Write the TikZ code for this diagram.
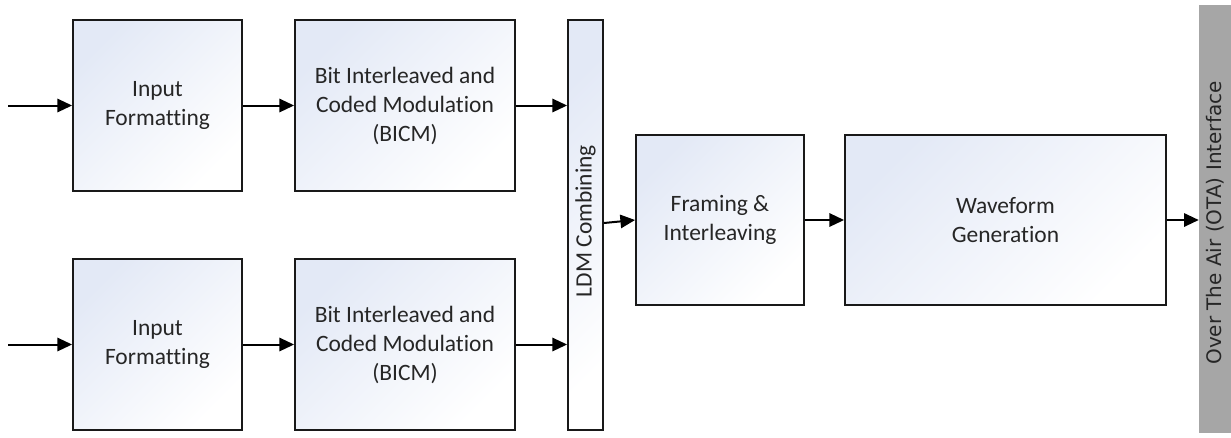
\documentclass[tikz,border=0pt]{standalone}
\usepackage{fontspec}
\setmainfont{Carlito}[Ligatures={NoCommon}]
\newfontfamily\otafont{DejaVu Sans}
\usetikzlibrary{arrows.meta}
\definecolor{boxtop}{HTML}{E3E9F6}
\definecolor{otagray}{HTML}{A6A6A6}
\begin{document}
\begin{tikzpicture}[x=0.75pt,y=-0.75pt,
  blk/.style={draw=black!90, line width=1.4pt, inner sep=0pt, align=center,
    shade, top color=boxtop, bottom color=white, shading angle=45,
    font=\fontsize{17.6}{21.75}\selectfont, text=black!85},
  conn/.style={line width=1.5pt, -{Triangle[length=11pt,width=10pt]}}]
\useasboundingbox (0,0) rectangle (1231,437);
\node[blk, minimum width=126.75pt, minimum height=128.25pt] (inA) at (157.5,105.5) {Input\\Formatting};
\node[blk, minimum width=165pt, minimum height=128.25pt] (bicmA) at (405,105.5) {Bit Interleaved and\\Coded Modulation\\(BICM)};
\node[blk, minimum width=126.75pt, minimum height=128.25pt] (inB) at (157.5,344.5) {Input\\Formatting};
\node[blk, minimum width=165pt, minimum height=128.25pt] (bicmB) at (405,344.5) {Bit Interleaved and\\Coded Modulation\\(BICM)};
\node[blk, minimum width=26.25pt, minimum height=307.5pt] (ldm) at (585.5,225) {\rotatebox{90}{\hspace{6pt}LDM Combining}};
\node[blk, minimum width=126pt, minimum height=127.5pt] (fr) at (720,220) {Framing \&\\Interleaving};
\node[blk, minimum width=240.75pt, minimum height=127.5pt] (wf) at (1005.5,220) {Waveform\\Generation};
\node[fill=otagray, inner sep=0pt, minimum width=24.75pt, minimum height=321pt, text=black!85,
  font=\otafont\fontsize{15}{18}\selectfont] (ota) at (1215.5,219) {\rotatebox{90}{Over The Air (OTA) Interface\hspace{6pt}}};
\coordinate (srcA) at (8,105.5);
\coordinate (srcB) at (8,344.5);
\draw[conn] (srcA) -- (inA);
\draw[conn] (srcB) -- (inB);
\draw[conn] (inA) -- (bicmA);
\draw[conn] (inB) -- (bicmB);
\draw[conn] (bicmA.east) -- (bicmA.east -| ldm.west);
\draw[conn] (bicmB.east) -- (bicmB.east -| ldm.west);
\draw[conn] (ldm.east |- 0,223) -- (fr.west);
\draw[conn] (fr) -- (wf);
\draw[conn] (wf.east) -- (wf.east -| ota.west);
\end{tikzpicture}
\end{document}
